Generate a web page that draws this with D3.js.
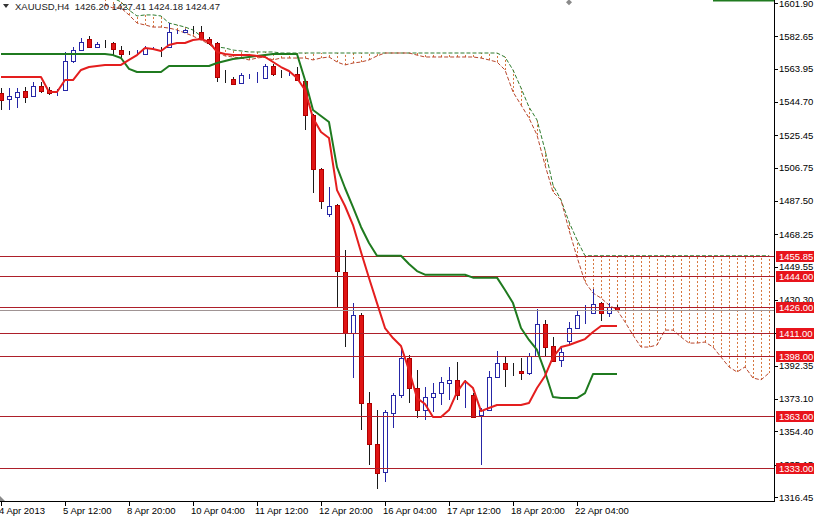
<!DOCTYPE html>
<html><head><meta charset="utf-8">
<script src="https://cdn.jsdelivr.net/npm/d3@7"></script>
<style>body{margin:0;background:#fff}svg{display:block}</style>
</head><body>
<svg id="c" width="814" height="516"></svg>
<script>
// ---------- DATA ----------
const symbolTitle = "XAUUSD,H4  1426.20 1427.41 1424.18 1424.47";
const opens  = [1549.9,1546.4,1547.6,1551.0,1548.2,1553.9,1551.6,1550.2,1551.6,1568.4,1574.7,1581.1,1576.5,1578.3,1578.8,1574.7,1573.1,1573.5,1572.4,1575.3,1574.8,1576.5,1585.1,1585.1,1586.4,1585.1,1581.1,1578.8,1558.6,1558.0,1555.7,1559.8,1558.5,1558.6,1565.5,1561.0,1560.8,1560.9,1556.8,1537.2,1506.0,1480.0,1485.2,1446.5,1411.2,1421.6,1370.8,1347.1,1330.9,1365.0,1375.4,1396.8,1379.4,1366.7,1374.2,1376.6,1382.3,1384.1,1376.5,1375.4,1363.8,1366.7,1385.8,1393.9,1390.5,1389.2,1388.1,1397.9,1416.4,1403.7,1395.6,1406.6,1414.1,1422.8,1422.8,1428.6,1422.8,1426.20];
const highs  = [1552.8,1552.8,1552.8,1553.4,1556.3,1556.3,1553.4,1552.2,1573.6,1576.5,1581.7,1582.8,1579.4,1580.5,1579.4,1577.1,1574.2,1574.7,1577.1,1576.5,1576.5,1590.3,1586.3,1586.9,1588.6,1588.6,1582.3,1579.4,1563.2,1559.1,1561.5,1560.9,1562.0,1566.7,1566.7,1563.2,1562.0,1564.9,1557.4,1537.8,1506.6,1495.6,1485.8,1459.2,1428.6,1422.8,1377.1,1366.7,1366.7,1376.6,1402.6,1398.5,1389.8,1380.0,1382.3,1386.0,1391.6,1394.5,1384.1,1376.6,1367.9,1389.2,1401.0,1397.9,1393.9,1396.8,1399.7,1425.1,1418.7,1408.9,1402.6,1417.6,1424.5,1427.4,1436.6,1429.2,1428.6,1427.41];
const lows   = [1540.1,1540.1,1541.2,1544.1,1547.6,1549.9,1548.8,1548.2,1551.0,1567.2,1574.2,1575.9,1575.9,1575.9,1571.9,1570.1,1571.9,1572.3,1571.9,1574.7,1570.7,1575.9,1584.0,1584.6,1584.0,1580.5,1577.6,1556.3,1555.7,1554.5,1555.1,1558.0,1555.7,1558.0,1559.7,1558.6,1559.7,1556.8,1528.5,1492.1,1482.9,1478.2,1425.7,1403.1,1385.2,1355.2,1334.9,1321.1,1325.1,1356.3,1373.7,1370.8,1362.1,1360.9,1365.6,1369.6,1372.5,1372.5,1367.9,1362.1,1335.2,1366.1,1385.2,1380.0,1386.3,1384.1,1387.0,1397.3,1397.3,1394.5,1391.6,1404.3,1413.5,1416.4,1422.2,1418.1,1420.5,1424.18];
const closes = [1545.9,1548.2,1550.5,1547.6,1553.9,1551.0,1549.9,1550.5,1568.4,1574.7,1579.4,1576.5,1578.2,1578.0,1575.3,1572.4,1572.9,1573.8,1575.9,1575.6,1574.5,1585.1,1585.3,1586.3,1586.2,1581.1,1578.8,1559.1,1558.4,1555.1,1560.3,1560.0,1558.7,1565.5,1560.9,1560.8,1561.0,1557.4,1537.2,1506.0,1487.5,1484.6,1447.0,1411.2,1421.6,1370.8,1347.1,1330.3,1365.6,1375.4,1396.8,1379.4,1366.7,1374.2,1376.6,1382.9,1384.1,1375.4,1376.7,1362.7,1366.7,1385.8,1393.9,1390.4,1390.3,1388.1,1397.9,1416.4,1403.1,1395.0,1400.2,1414.1,1421.6,1423.0,1428.0,1422.8,1426.2,1424.47];

const tenkan = [1559.1,1559.1,1559.1,1559.1,1559.1,1559.1,1550.5,1550.5,1557.4,1557.4,1563.2,1564.9,1565.5,1566.1,1566.1,1566.1,1569.0,1571.8,1575.9,1575.3,1574.2,1577.6,1578.8,1578.8,1580.5,1581.1,1579.4,1573.6,1572.4,1571.8,1571.8,1571.8,1571.3,1570.7,1567.8,1564.9,1562.6,1558.6,1551.6,1535.4,1527.4,1523.9,1493.8,1484.6,1473.6,1458.0,1443.0,1428.5,1414.1,1408.3,1403.7,1389.8,1373.6,1370.2,1362.7,1362.7,1366.7,1377.1,1383.5,1379.4,1366.1,1367.9,1369.6,1369.6,1369.6,1369.6,1370.8,1379.4,1386.4,1397.3,1403.1,1404.3,1406.0,1407.7,1411.8,1415.3,1415.3,1415.3];
const kijun  = [1572.4,1572.4,1572.4,1572.4,1572.4,1572.4,1572.4,1572.4,1572.4,1572.4,1572.4,1572.4,1572.4,1572.4,1571.8,1570.1,1563.8,1562.0,1562.0,1562.0,1562.0,1565.5,1565.5,1565.5,1565.5,1565.5,1565.5,1567.2,1568.4,1569.5,1570.1,1570.7,1571.3,1571.8,1572.4,1572.4,1572.4,1572.4,1557.4,1540.1,1536.6,1533.1,1507.1,1495.0,1484.0,1472.5,1463.2,1455.85,1455.85,1455.85,1455.85,1451.1,1447.0,1444.9,1444.9,1444.9,1444.9,1444.9,1444.9,1443.2,1443.2,1443.2,1443.2,1436.1,1428.5,1414.1,1407.2,1401.4,1388.7,1374.2,1373.6,1373.6,1373.6,1376.5,1387.5,1387.5,1387.5,1387.5];

// Senkou spans, shifted forward: first value belongs to bar index spanStart
const spanStart = 13;
const senkouA = [1600.7,1599.0,1599.0,1595.0,1590.3,1589.2,1588.0,1588.0,1587.4,1586.3,1584.6,1582.8,1580.5,1578.2,1573.6,1571.3,1570.7,1570.1,1569.0,1570.1,1570.7,1569.0,1570.1,1570.1,1570.1,1570.1,1569.0,1570.1,1570.7,1567.8,1566.1,1567.2,1567.8,1569.0,1571.3,1573.0,1573.0,1573.0,1573.0,1571.8,1570.7,1570.7,1570.7,1570.7,1570.7,1570.7,1570.7,1570.1,1569.0,1567.8,1563.2,1550.5,1543.0,1535.4,1525.6,1508.3,1492.7,1488.1,1470.7,1455.1,1440.7,1434.3,1431.4,1427.4,1424.5,1417.6,1410.0,1403.1,1403.1,1404.3,1412.9,1412.9,1408.9,1405.4,1405.4,1406.0,1403.1,1397.3,1391.6,1388.7,1391.6,1385.2,1384.1,1388.1];
const senkouB = [1605.4,1604.8,1602.5,1597.8,1594.4,1595.0,1595.0,1594.4,1590.3,1589.2,1588.0,1586.3,1582.8,1578.2,1576.5,1575.9,1574.7,1574.2,1573.6,1573.6,1573.6,1573.6,1573.0,1573.0,1573.0,1573.0,1573.0,1573.0,1573.0,1573.0,1573.0,1573.0,1573.0,1573.0,1573.0,1573.0,1573.0,1573.0,1573.0,1573.0,1573.0,1573.0,1573.0,1573.0,1573.0,1573.0,1573.0,1573.0,1573.0,1573.0,1570.7,1563.2,1552.8,1541.8,1534.3,1517.0,1496.7,1488.1,1475.4,1465.0,1455.85,1455.85,1455.85,1455.85,1455.85,1455.85,1455.85,1455.85,1455.85,1455.85,1455.85,1455.85,1455.85,1455.85,1455.85,1455.85,1455.85,1455.85,1455.85,1455.85,1455.85,1455.85,1455.85,1455.85];

const levelPrices = [1455.85, 1444.00, 1426.00, 1411.00, 1398.00, 1363.00, 1333.00];
const bidPrice = 1424.47;
const priceTicks = [1601.90,1582.65,1563.95,1544.70,1525.45,1506.75,1487.50,1468.25,1449.55,1430.30,1411.00,1392.35,1373.10,1354.40,1335.15,1316.45];
const timeLabels = ["4 Apr 2013","5 Apr 12:00","8 Apr 20:00","10 Apr 04:00","11 Apr 12:00","12 Apr 20:00","16 Apr 04:00","17 Apr 12:00","18 Apr 20:00","22 Apr 04:00"];
const timeLabelBars = [0,8,16,24,32,40,48,56,64,72];
const topSegment = {price: 1603.3, from: 89, to: 97};
const markerDiamond = {bar: 71, price: 1602.3};

// ---------- CHART ----------
const PR = 774, PB = 501;
const svg = d3.select("#c");
const x = d3.scaleLinear().domain([0, 77]).range([1, 617]);
const y = d3.scaleLinear().domain([1314.14, 1603.63]).range([PB, 0]);
const font = "'Liberation Sans', Arial, sans-serif";

svg.append("defs").append("clipPath").attr("id","clip")
  .append("rect").attr("x",0).attr("y",0).attr("width",PR).attr("height",PB);
const plot = svg.append("g").attr("clip-path","url(#clip)");

const cloud = senkouA.map((a,k)=>({i: spanStart+k, a, b: senkouB[k]}));

// cloud hatch
plot.append("g").selectAll("line").data(cloud).join("line")
  .attr("x1", d=>Math.round(x(d.i))+0.5).attr("x2", d=>Math.round(x(d.i))+0.5)
  .attr("y1", d=>y(d.a)).attr("y2", d=>y(d.b))
  .attr("stroke","#d6763e").attr("stroke-width",1).attr("stroke-dasharray","2,2");

// cloud borders
const cl = acc => d3.line().x(d=>x(d.i)).y(d=>y(acc(d)));
plot.append("path").datum(cloud).attr("d", cl(d=>d.b))
  .attr("fill","none").attr("stroke","#2f7d2f").attr("stroke-width",1).attr("stroke-dasharray","4,2");
plot.append("path").datum(cloud).attr("d", cl(d=>d.a))
  .attr("fill","none").attr("stroke","#b8472e").attr("stroke-width",1).attr("stroke-dasharray","4,2");

// candles
const bars = opens.map((o,i)=>({i,o,h:highs[i],l:lows[i],c:closes[i]}));
const cg = plot.append("g").attr("shape-rendering","crispEdges");
const bull = "#2626a6", bearFill = "#e01414", bearStroke = "#b00000", bearWick = "#1a1a1a";
cg.selectAll("line.w").data(bars).join("line").attr("class","w")
  .attr("x1", d=>Math.round(x(d.i))+0.5).attr("x2", d=>Math.round(x(d.i))+0.5)
  .attr("y1", d=>y(d.h)).attr("y2", d=>y(d.l))
  .attr("stroke", d=>d.c>=d.o?bull:bearWick);
cg.selectAll("rect.b").data(bars).join("rect").attr("class","b")
  .attr("x", d=>Math.round(x(d.i))-2+0.5)
  .attr("width", 4)
  .attr("y", d=>Math.round(y(Math.max(d.o,d.c)))+0.5)
  .attr("height", d=>Math.max(0, Math.round(y(Math.min(d.o,d.c)))-Math.round(y(Math.max(d.o,d.c)))))
  .attr("fill", d=>d.c>=d.o?"#ffffff":bearFill)
  .attr("stroke", d=>d.c>=d.o?bull:bearStroke);

// horizontal levels
const lg = plot.append("g").attr("shape-rendering","crispEdges");
lg.selectAll("line").data(levelPrices).join("line")
  .attr("x1",0).attr("x2",PR).attr("y1",d=>Math.round(y(d))+0.5).attr("y2",d=>Math.round(y(d))+0.5)
  .attr("stroke","#ad1f2a").attr("stroke-width",1);
lg.append("line").attr("x1",0).attr("x2",PR)
  .attr("y1",Math.round(y(bidPrice))+0.5).attr("y2",Math.round(y(bidPrice))+0.5)
  .attr("stroke","#a09494").attr("stroke-width",1);

// tenkan / kijun
const ln = arr => d3.line().x((d,i)=>x(i)).y(d=>y(d))(arr);
plot.append("path").attr("d", ln(kijun)).attr("fill","none").attr("stroke","#1f7a1f").attr("stroke-width",2).attr("stroke-linejoin","round");
plot.append("path").attr("d", ln(tenkan)).attr("fill","none").attr("stroke","#e41e1e").attr("stroke-width",2).attr("stroke-linejoin","round");

// top-right segment and marker
plot.append("line").attr("x1",x(topSegment.from)).attr("x2",x(topSegment.to))
  .attr("y1",y(topSegment.price)).attr("y2",y(topSegment.price))
  .attr("stroke","#1f7a1f").attr("stroke-width",2);
plot.append("path").attr("transform",`translate(${x(markerDiamond.bar)},${y(markerDiamond.price)})`)
  .attr("d","M0,-3 L3,0 L0,3 L-3,0 Z").attr("fill","#8a8a8a");
// shift marker at bottom-left
svg.append("path").attr("d",`M0,${PB-5} L5,${PB} L0,${PB} Z`).attr("fill","#8a8a8a");

// axes
const ax = svg.append("g").attr("shape-rendering","crispEdges");
ax.append("line").attr("x1",PR+0.5).attr("x2",PR+0.5).attr("y1",0).attr("y2",PB+1).attr("stroke","#000");
ax.append("line").attr("x1",0).attr("x2",PR+1).attr("y1",PB+0.5).attr("y2",PB+0.5).attr("stroke","#000");

const yt = svg.append("g");
yt.selectAll("line").data(priceTicks).join("line")
  .attr("x1",PR).attr("x2",PR+4).attr("y1",d=>Math.round(y(d))+0.5).attr("y2",d=>Math.round(y(d))+0.5)
  .attr("stroke","#000").attr("shape-rendering","crispEdges");
yt.selectAll("text").data(priceTicks).join("text")
  .attr("x",PR+5).attr("y",d=>y(d)+3.5)
  .attr("font-family",font).attr("font-size","9.5px").attr("fill","#000")
  .text(d=>d.toFixed(2));

const xt = svg.append("g");
xt.selectAll("line").data(timeLabelBars).join("line")
  .attr("x1",d=>Math.round(x(d))+0.5).attr("x2",d=>Math.round(x(d))+0.5)
  .attr("y1",PB).attr("y2",PB+5).attr("stroke","#000").attr("shape-rendering","crispEdges");
xt.selectAll("text").data(timeLabelBars).join("text")
  .attr("x",d=>x(d)-2).attr("y",514)
  .attr("font-family",font).attr("font-size","9.5px").attr("fill","#000")
  .text((d,k)=>timeLabels[k]);

// level labels
const lab = svg.append("g");
const lv = lab.selectAll("g").data(levelPrices).join("g")
  .attr("transform", d=>`translate(${PR+2},${Math.round(y(d))})`);
lv.append("rect").attr("x",0).attr("y",-5).attr("width",40).attr("height",11).attr("fill","#e8141c");
lv.append("text").attr("x",3).attr("y",4).attr("font-family",font).attr("font-size","9.5px")
  .attr("fill","#fff").text(d=>d.toFixed(2));

// title
const tg = svg.append("g");
tg.append("path").attr("d","M3,4 L9,4 L6,8 Z").attr("fill","#333");
tg.append("text").attr("x",15).attr("y",10).attr("font-family",font).attr("font-size","9.5px")
  .attr("fill","#222").attr("xml:space","preserve").style("white-space","pre").text(symbolTitle);
</script>
</body></html>
